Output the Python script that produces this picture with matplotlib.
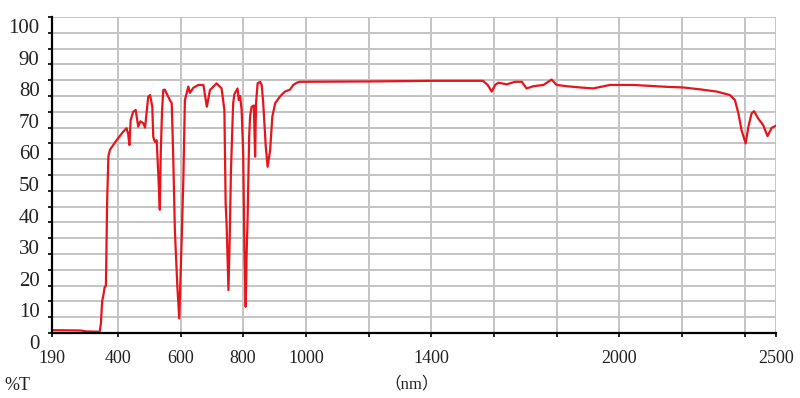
import matplotlib
matplotlib.use("Agg")
import matplotlib.pyplot as plt
import matplotlib.transforms as mtransforms
import numpy as np

wavelength_nm = [190, 280, 300, 342, 346, 350, 354, 358, 362, 366, 370, 375, 396, 417, 428, 433, 437,
                 441, 449, 457, 465, 472, 481, 487, 497, 503, 510, 513, 518, 524, 529, 534, 537, 541,
                 545, 550, 566, 572, 577, 582, 590, 596, 604, 609, 614, 625, 630, 641, 657, 673, 684,
                 694, 715, 731, 740, 744, 747, 753, 757, 761, 764, 768, 772, 782, 786, 790, 795, 800,
                 804, 808, 811, 814, 819, 822, 827, 834, 838, 841, 846, 854, 859, 864, 872, 878, 886,
                 893, 902, 917, 933, 949, 960, 971, 981, 1200, 1400, 1565, 1580, 1593, 1604, 1614,
                 1641, 1667, 1689, 1704, 1726, 1758, 1784, 1800, 1832, 1875, 1917, 1970, 2045, 2151,
                 2204, 2258, 2311, 2353, 2369, 2380, 2390, 2403, 2412, 2422, 2430, 2443, 2459, 2473,
                 2486, 2500]
transmittance = [0.9, 0.8, 0.5, 0.4, 3, 10, 12, 14.5, 15, 42, 56, 58, 61, 63.7, 64.8, 63, 59.5,
                 67.4, 70, 70.6, 65.3, 67, 66.4, 65, 74.8, 75.3, 71.6, 62.1, 60.5, 61, 50.6, 39, 57, 70,
                 76.9, 77, 73.7, 72.7, 55, 32.6, 14.6, 4.6, 30.5, 48.4, 73.7, 78, 76, 77.6, 78.5, 78.5, 71.6,
                 76.9, 79, 77.4, 70.6, 41, 34.8, 13.6, 30, 51.6, 61, 72.7, 75.6, 77.4, 73.7, 75, 70.6, 57,
                 26, 8.3, 25, 35.8, 62, 68.5, 71.6, 72, 55.8, 72.7, 79, 79.5, 78.5, 72.7, 59, 52.6, 57.9,
                 68.5, 72.7, 74.8, 76.4, 77, 78.5, 79.2, 79.5, 79.6, 79.8, 79.8, 78.5, 76.4, 78.5, 79.2,
                 78.7, 79.5, 79.5, 77.4, 78.1, 78.5, 80.2, 78.5, 78.1, 77.7, 77.4, 78.5, 78.5, 77.9,
                 77.7, 77.1, 76.4, 75.3, 73.7, 69.5, 64.2, 60, 65.3, 69.5, 70.2, 67.9, 65.8, 62.3,
                 64.9, 65.6]

x_ticks = [190, 400, 600, 800, 1000, 1200, 1400, 1600, 1800, 2000, 2200, 2400, 2500]
x_tick_labels = ["190", "400", "600", "800", "1000", "", "1400", "", "", "2000", "", "", "2500"]
y_ticks = [0, 10, 20, 30, 40, 50, 60, 70, 80, 90, 100]
y_tick_labels = [str(v) for v in y_ticks]

serif = ["Liberation Serif", "Noto Sans CJK SC", "DejaVu Serif"]

fig = plt.figure(figsize=(8.0, 3.98), dpi=100)
ax = fig.add_axes([52 / 800, (398 - 333) / 398, (776 - 52) / 800, (333 - 17) / 398])

ax.set_xlim(190, 2500)
ax.set_ylim(0, 100)

grid_c = "#c4c4c4"
for v in np.arange(5, 101, 5):
    ax.axhline(v, color=grid_c, lw=1.4, zorder=1)
for v in x_ticks[1:]:
    ax.axvline(v, color=grid_c, lw=1.4, zorder=1)

ax.plot(wavelength_nm, transmittance, color="#e8141c", lw=1.6, zorder=3)

for s in ["top", "right"]:
    ax.spines[s].set_visible(False)
ax.spines["left"].set_linewidth(1.6)
ax.spines["bottom"].set_linewidth(1.6)
ax.spines["left"].set_zorder(4)
ax.spines["bottom"].set_zorder(4)

ax.set_xticks(x_ticks)
ax.set_xticklabels(x_tick_labels, fontsize=13, family=serif, color="#222222")
ax.set_yticks(y_ticks)
ax.set_yticklabels(y_tick_labels, fontsize=15, family=serif, color="#222222")
ax.set_yticks(np.arange(5, 100, 10), minor=True)
ax.tick_params(axis="y", which="both", direction="out", length=3, width=1.2, pad=6)
ax.tick_params(axis="x", which="major", direction="out", length=3, width=1.2, pad=9)

offset = mtransforms.ScaledTranslation(0, -0.09, fig.dpi_scale_trans)
for lbl in ax.get_yticklabels():
    lbl.set_transform(lbl.get_transform() + offset)

fig.text(17 / 800, 1 - 385 / 398, "%T", fontsize=13, family=serif, ha="center", va="center", color="#222222")
fig.text(412 / 800, 1 - 384 / 398, "（nm）", fontsize=12, family=serif, ha="center", va="center", color="#222222")

fig.savefig("out.png", dpi=100, facecolor="white")
